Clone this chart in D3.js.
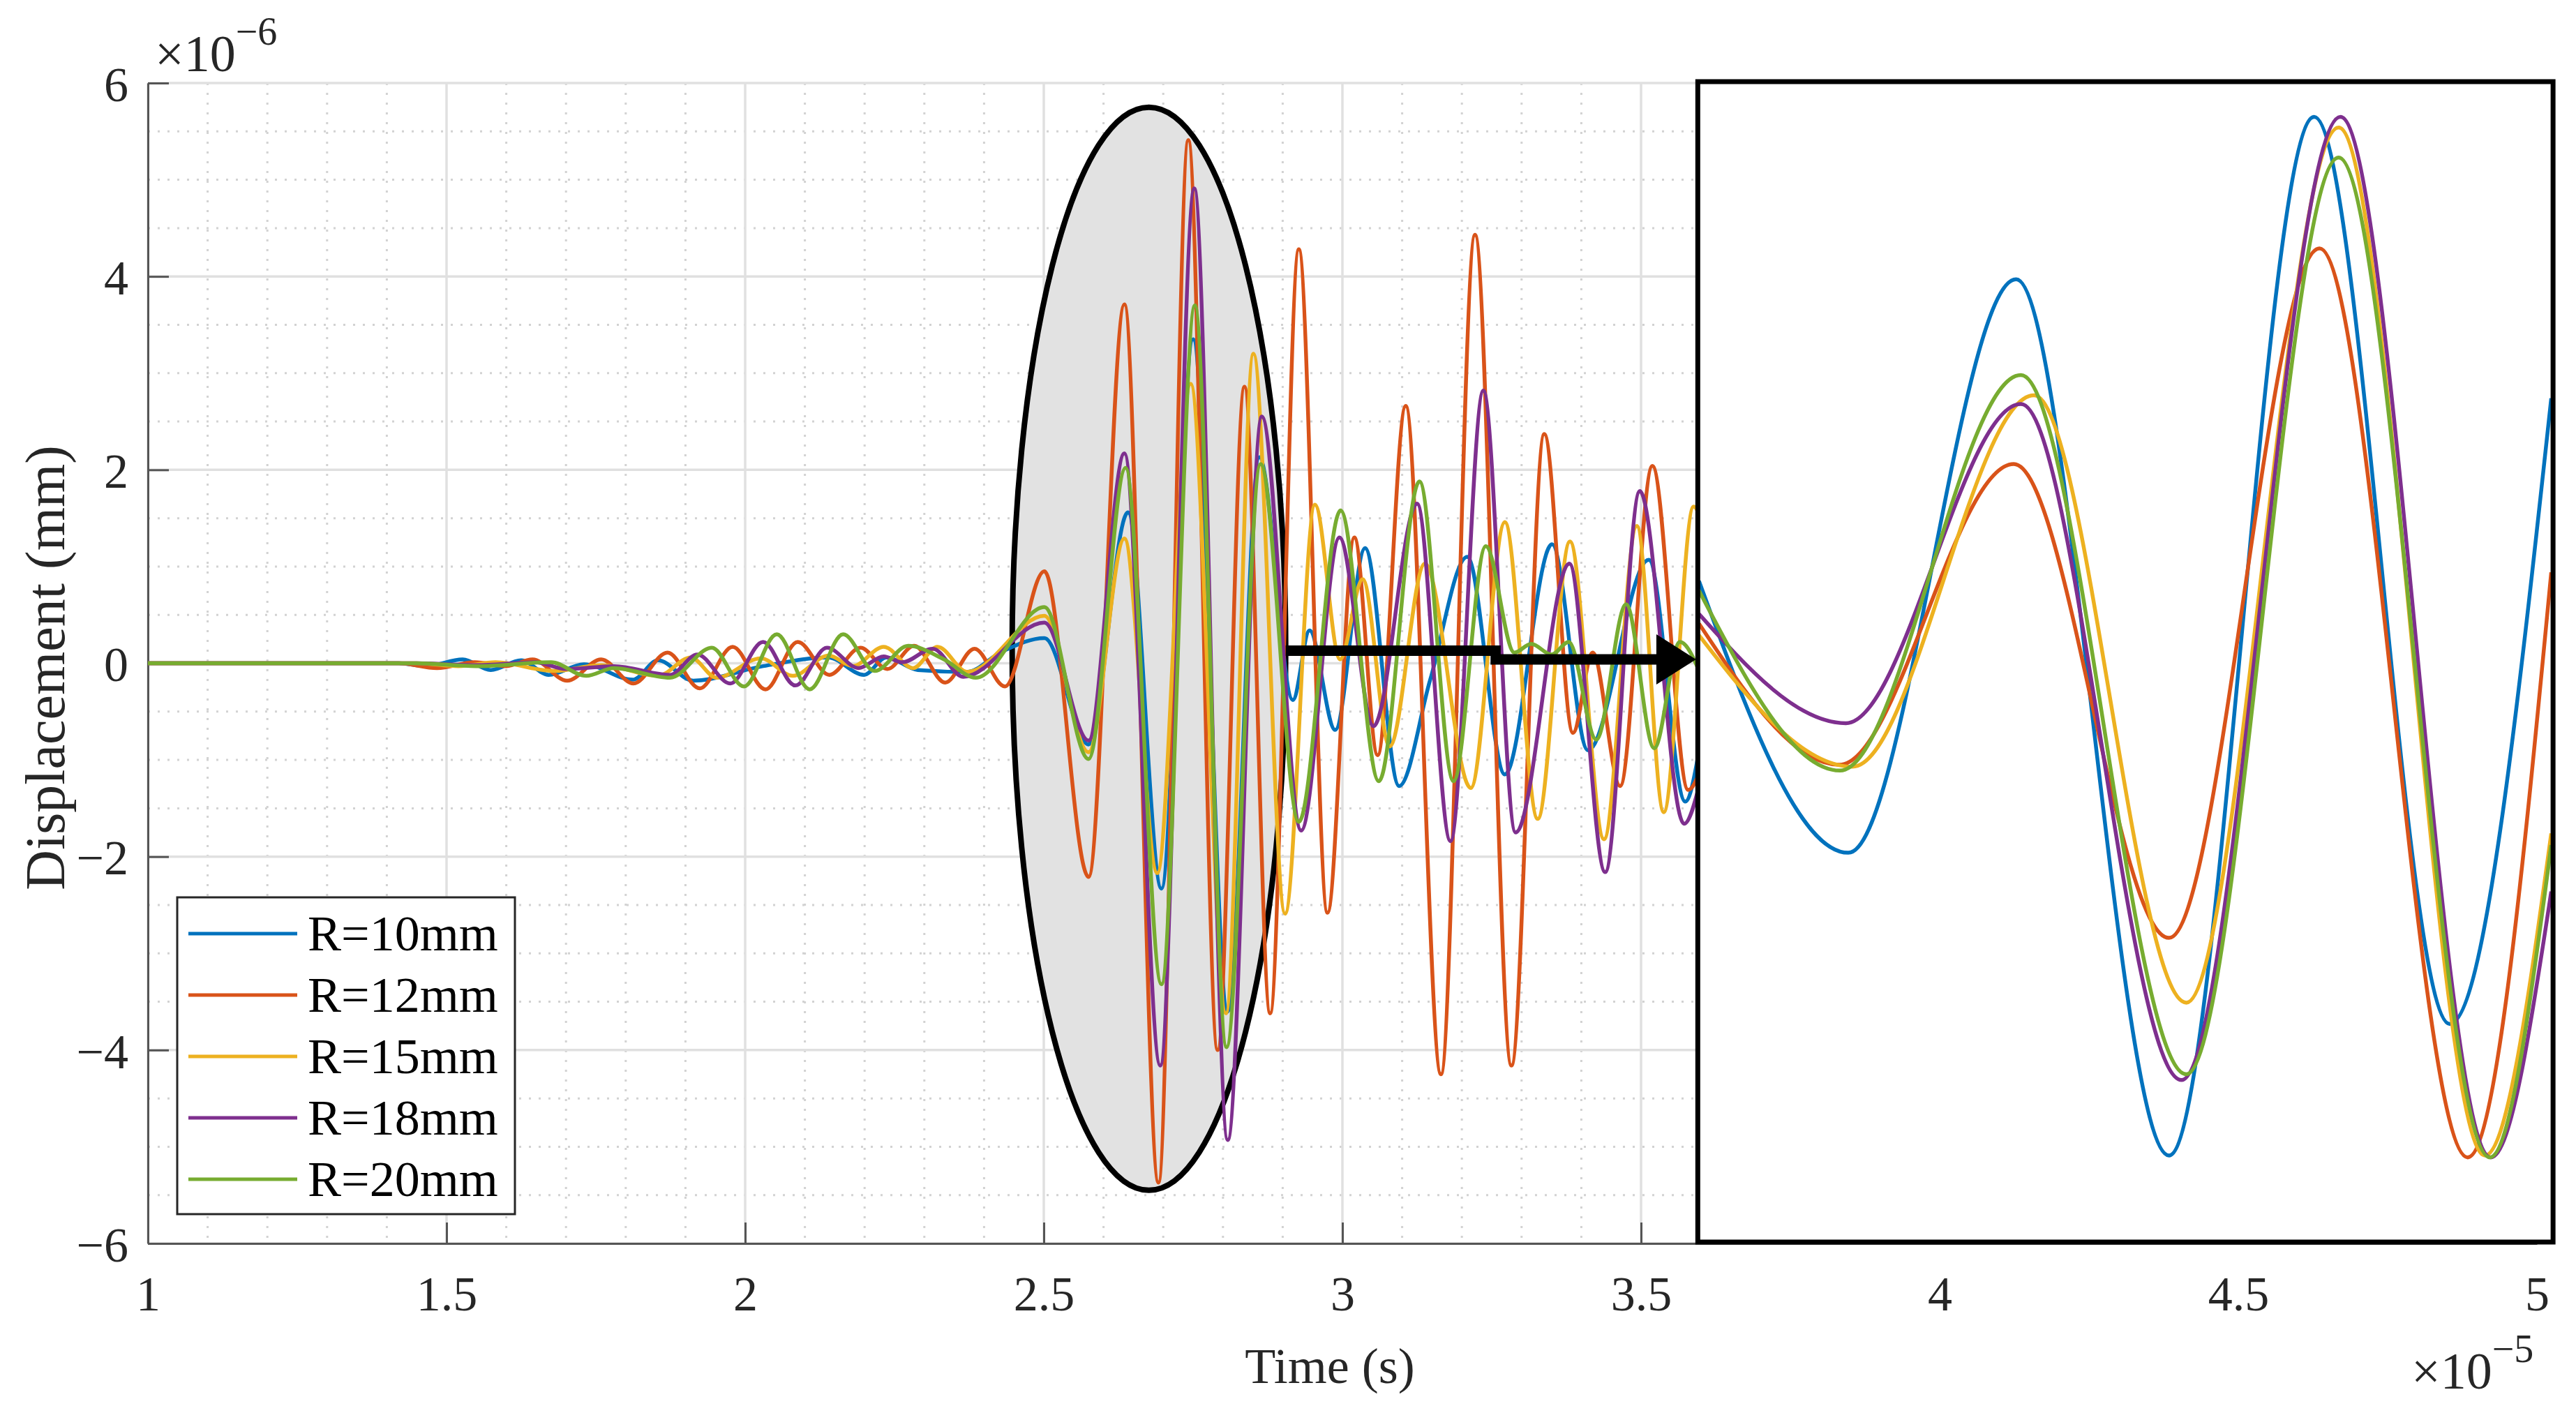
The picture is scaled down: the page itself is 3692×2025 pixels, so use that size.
<!DOCTYPE html>
<html>
<head>
<meta charset="utf-8">
<script src="https://cdn.jsdelivr.net/npm/d3@7/dist/d3.min.js"></script>
<style>
  body { margin: 0; background: #fff; }
  text { font-family: "Liberation Serif", "Times New Roman", serif; }
</style>
</head>
<body>
<svg id="chart"></svg>
<script>
// legend names and MATLAB default colours
var seriesNames = ["R=10mm", "R=12mm", "R=15mm", "R=18mm", "R=20mm"];
var seriesColors = ["#0072BD", "#D95319", "#EDB120", "#7E2F8E", "#77AC30"];

var xTicks = [1, 1.5, 2, 2.5, 3, 3.5, 4, 4.5, 5];
var xTickLabels = ["1", "1.5", "2", "2.5", "3", "3.5", "4", "4.5", "5"];
var yTicks = [-6, -4, -2, 0, 2, 4, 6];
var yTickLabels = ["\u22126", "\u22124", "\u22122", "0", "2", "4", "6"];

// main traces: [time (x1e-5 s), displacement (x1e-6 mm)], read at peaks/troughs
var r10 = [[1,0],[1.42,0],[1.465,-0.03],[1.527,0.04],[1.574,-0.07],[1.625,0.03],[1.671,-0.12],[1.730,-0.01],
  [1.812,-0.17],[1.854,0.03],[1.913,-0.18],[2.03,-0.03],[2.139,0.06],[2.199,-0.12],[2.236,0.06],[2.289,-0.07],
  [2.371,-0.09],[2.43,0.12],[2.501,0.26],[2.575,-0.84],[2.641,1.56],[2.697,-2.33],[2.750,3.35],[2.808,-3.6],
  [2.861,2.13],[2.917,-0.38],[2.945,0.34],[2.988,-0.69],[3.038,1.19],[3.095,-1.27],[3.147,-0.17],[3.209,1.10],
  [3.272,-1.15],[3.351,1.23],[3.411,-0.90],[3.513,1.07],[3.574,-1.43],[3.60,-0.8]];
var r12 = [[1,0],[1.42,0],[1.484,-0.05],[1.547,0.01],[1.60,-0.03],[1.644,0.04],[1.702,-0.18],[1.759,0.04],
  [1.813,-0.21],[1.870,0.11],[1.924,-0.26],[1.979,0.17],[2.034,-0.27],[2.088,0.22],[2.141,-0.12],[2.193,0.16],
  [2.238,-0.06],[2.283,0.18],[2.335,-0.20],[2.384,0.15],[2.435,-0.24],[2.501,0.95],[2.575,-2.21],[2.635,3.71],
  [2.692,-5.37],[2.742,5.41],[2.791,-4.0],[2.836,2.86],[2.879,-3.62],[2.927,4.28],[2.975,-2.58],[3.020,1.30],
  [3.059,-0.95],[3.106,2.66],[3.165,-4.25],[3.222,4.43],[3.283,-4.16],[3.338,2.37],[3.386,-0.72],[3.419,0.11],
  [3.465,-1.27],[3.519,2.04],[3.579,-1.31],[3.60,-1.1]];
var r15 = [[1,0],[1.45,0],[1.52,-0.03],[1.582,0.01],[1.679,-0.08],[1.76,-0.02],[1.854,-0.13],[1.909,0.06],
  [1.952,-0.15],[2.026,0.05],[2.080,-0.13],[2.14,0.08],[2.18,-0.03],[2.232,0.17],[2.281,-0.05],[2.322,0.17],
  [2.372,-0.09],[2.501,0.49],[2.575,-0.92],[2.635,1.29],[2.690,-2.17],[2.746,2.89],[2.805,-3.62],[2.851,3.20],
  [2.904,-2.59],[2.954,1.64],[2.996,0.04],[3.034,0.87],[3.079,-0.86],[3.138,1.03],[3.215,-1.29],[3.272,1.46],
  [3.327,-1.61],[3.381,1.26],[3.438,-1.82],[3.493,1.42],[3.538,-1.54],[3.588,1.62],[3.60,1.5]];
var r18 = [[1,0],[1.45,0],[1.55,-0.02],[1.648,0.01],[1.70,-0.06],[1.78,-0.03],[1.874,-0.12],[1.92,0.09],
  [1.975,-0.21],[2.030,0.22],[2.084,-0.23],[2.137,0.16],[2.19,-0.05],[2.232,0.07],[2.263,0.01],[2.314,0.15],
  [2.365,-0.14],[2.501,0.42],[2.575,-0.80],[2.635,2.17],[2.695,-4.16],[2.752,4.91],[2.808,-4.93],[2.865,2.55],
  [2.931,-1.73],[2.995,1.30],[3.052,-0.65],[3.125,1.65],[3.181,-1.84],[3.236,2.82],[3.290,-1.75],[3.380,1.03],
  [3.440,-2.16],[3.498,1.78],[3.572,-1.66],[3.60,-1.2]];
var r20 = [[1,0],[1.45,0],[1.55,-0.03],[1.675,0.01],[1.734,-0.13],[1.78,-0.05],[1.874,-0.15],[1.944,0.16],
  [1.998,-0.24],[2.053,0.30],[2.108,-0.27],[2.164,0.30],[2.217,-0.08],[2.273,0.18],[2.333,0.04],[2.386,-0.15],
  [2.501,0.58],[2.575,-0.99],[2.637,2.02],[2.697,-3.32],[2.753,3.70],[2.806,-3.97],[2.863,2.06],[2.927,-1.64],
  [2.997,1.58],[3.061,-1.22],[3.129,1.88],[3.186,-1.22],[3.240,1.21],[3.288,0.11],[3.316,0.20],[3.350,0.09],
  [3.379,0.22],[3.425,-0.79],[3.475,0.61],[3.522,-0.88],[3.565,0.22],[3.60,-0.12]];

// zoomed panel traces, read in the main axes' units
var r10Zoom = [[3.597,0.85],[3.847,-1.96],[4.128,3.97],[4.384,-5.09],[4.627,5.65],[4.854,-3.73],[5.024,2.74]];
var r12Zoom = [[3.597,0.41],[3.832,-1.05],[4.124,2.06],[4.384,-2.84],[4.636,4.29],[4.884,-5.11],[5.024,0.94]];
var r15Zoom = [[3.597,0.29],[3.854,-1.07],[4.158,2.77],[4.413,-3.51],[4.668,5.54],[4.913,-5.09],[5.024,-1.76]];
var r18Zoom = [[3.597,0.51],[3.843,-0.62],[4.136,2.68],[4.405,-4.31],[4.671,5.65],[4.923,-5.11],[5.024,-2.36]];
var r20Zoom = [[3.597,0.75],[3.833,-1.11],[4.136,2.98],[4.413,-4.25],[4.668,5.23],[4.921,-5.11],[5.024,-1.88]];

// annotations in data units
var ellipseCenter = [2.676, 0.15];
var ellipseRadii = [0.229, 5.6];
var arrowFirst = [[2.905, 0.13], [3.265, 0.13]];
var arrowSecond = [[3.248, 0.04], [3.535, 0.04]];
var arrowTip = [3.592, 0.04];
var insetRange = [3.595, 5.027];

var mainSeries = [r10, r12, r15, r18, r20];
var zoomSeries = [r10Zoom, r12Zoom, r15Zoom, r18Zoom, r20Zoom];

var dimensions = {
    width: 3692,
    height: 2025,
    margin: { top: 119, bottom: 243, left: 212, right: 56 }
};

var svg = d3.select("#chart")
    .attr("width", dimensions.width)
    .attr("height", dimensions.height);

var xScale = d3.scaleLinear()
    .domain([1, 5])
    .range([dimensions.margin.left, dimensions.width - dimensions.margin.right]);

var yScale = d3.scaleLinear()
    .domain([-6, 6])
    .range([dimensions.height - dimensions.margin.bottom, dimensions.margin.top]);

var plotTop = yScale(6), plotBottom = yScale(-6), plotLeft = xScale(1), plotRight = xScale(5);

// minor grid (dotted)
var xMinor = d3.range(0, 41).filter(i => i % 5 != 0).map(i => 1 + i * 0.1);
var yMinor = d3.range(-6, 6.01, 0.5).filter(v => v % 2 != 0);
svg.append("g").selectAll("line").data(xMinor).enter().append("line")
    .attr("x1", d => xScale(d)).attr("x2", d => xScale(d))
    .attr("y1", plotTop).attr("y2", plotBottom)
    .attr("stroke", "#d2d2d2").attr("stroke-width", 3).attr("stroke-dasharray", "3,11");
svg.append("g").selectAll("line").data(yMinor).enter().append("line")
    .attr("x1", plotLeft).attr("x2", plotRight)
    .attr("y1", d => yScale(d)).attr("y2", d => yScale(d))
    .attr("stroke", "#d2d2d2").attr("stroke-width", 3).attr("stroke-dasharray", "3,11");

// major grid
svg.append("g").selectAll("line").data(xTicks).enter().append("line")
    .attr("x1", d => xScale(d)).attr("x2", d => xScale(d))
    .attr("y1", plotTop).attr("y2", plotBottom)
    .attr("stroke", "#e0e0e0").attr("stroke-width", 3.5);
svg.append("g").selectAll("line").data(yTicks).enter().append("line")
    .attr("x1", plotLeft).attr("x2", plotRight)
    .attr("y1", d => yScale(d)).attr("y2", d => yScale(d))
    .attr("stroke", "#e0e0e0").attr("stroke-width", 3.5);

// axes
var xAxis = d3.axisBottom(xScale)
    .tickValues(xTicks)
    .tickFormat((d, i) => xTickLabels[i])
    .tickSize(-30).tickSizeOuter(0).tickPadding(46);
var gx = svg.append("g")
    .attr("transform", `translate(0, ${plotBottom})`)
    .call(xAxis);

var yAxis = d3.axisLeft(yScale)
    .tickValues(yTicks)
    .tickFormat((d, i) => yTickLabels[i])
    .tickSize(-30).tickSizeOuter(0).tickPadding(28);
var gy = svg.append("g")
    .attr("transform", `translate(${plotLeft}, 0)`)
    .call(yAxis);

[gx, gy].forEach(g => {
    g.select(".domain").attr("stroke", "#555").attr("stroke-width", 3);
    g.selectAll(".tick line").attr("stroke", "#555").attr("stroke-width", 3);
    g.selectAll(".tick text")
        .attr("font-family", "Liberation Serif, serif")
        .attr("font-size", 70)
        .attr("fill", "#262626");
});
gy.selectAll(".tick text").attr("dy", "0.36em");

// highlighted ellipse (under the traces)
var ex = xScale(ellipseCenter[0]), ey = yScale(ellipseCenter[1]);
var erx = xScale(ellipseCenter[0] + ellipseRadii[0]) - ex;
var ery = yScale(0) - yScale(ellipseRadii[1]);
svg.append("ellipse")
    .attr("cx", ex).attr("cy", ey).attr("rx", erx).attr("ry", ery)
    .attr("fill", "#e2e2e2").attr("stroke", "#000").attr("stroke-width", 8);

// main curves
svg.append("clipPath").attr("id", "plotClip")
    .append("rect").attr("x", plotLeft).attr("y", plotTop)
    .attr("width", plotRight - plotLeft).attr("height", plotBottom - plotTop);

var line = d3.line()
    .x(d => xScale(d[0]))
    .y(d => yScale(d[1]))
    .curve(d3.curveMonotoneX);

svg.append("g").attr("clip-path", "url(#plotClip)")
    .selectAll("path").data(mainSeries).enter().append("path")
    .attr("d", d => line(d))
    .attr("fill", "none")
    .attr("stroke", (d, i) => seriesColors[i])
    .attr("stroke-width", 5.5);

// arrow
svg.append("line")
    .attr("x1", xScale(arrowFirst[0][0])).attr("y1", yScale(arrowFirst[0][1]))
    .attr("x2", xScale(arrowFirst[1][0])).attr("y2", yScale(arrowFirst[1][1]))
    .attr("stroke", "#000").attr("stroke-width", 15);
svg.append("line")
    .attr("x1", xScale(arrowSecond[0][0])).attr("y1", yScale(arrowSecond[0][1]))
    .attr("x2", xScale(arrowSecond[1][0])).attr("y2", yScale(arrowSecond[1][1]))
    .attr("stroke", "#000").attr("stroke-width", 15);
var tipX = xScale(arrowTip[0]), tipY = yScale(arrowTip[1]);
var baseX = xScale(arrowSecond[1][0]) - 8;
svg.append("polygon")
    .attr("points", `${baseX},${tipY - 36} ${tipX},${tipY} ${baseX},${tipY + 36}`)
    .attr("fill", "#000");

// inset panel
var ix0 = xScale(insetRange[0]), ix1 = xScale(insetRange[1]);
var iy0 = yScale(6) - 2, iy1 = yScale(-6) - 2;
svg.append("rect")
    .attr("x", ix0).attr("y", iy0).attr("width", ix1 - ix0).attr("height", iy1 - iy0)
    .attr("fill", "#fff");
svg.append("clipPath").attr("id", "insetClip")
    .append("rect").attr("x", ix0).attr("y", iy0)
    .attr("width", ix1 - ix0).attr("height", iy1 - iy0);
svg.append("g").attr("clip-path", "url(#insetClip)")
    .selectAll("path").data(zoomSeries).enter().append("path")
    .attr("d", d => line(d))
    .attr("fill", "none")
    .attr("stroke", (d, i) => seriesColors[i])
    .attr("stroke-width", 5.5);
svg.append("rect")
    .attr("x", ix0).attr("y", iy0).attr("width", ix1 - ix0).attr("height", iy1 - iy0)
    .attr("fill", "none").attr("stroke", "#000").attr("stroke-width", 7);

// exponent labels
var expY = svg.append("text").attr("x", 222).attr("y", 102)
    .attr("font-size", 74).attr("fill", "#262626");
expY.append("tspan").text("\u00d710");
expY.append("tspan").attr("font-size", 56).attr("dy", -38).text("\u22126");

var expX = svg.append("text").attr("x", 3456).attr("y", 1990)
    .attr("font-size", 74).attr("fill", "#262626");
expX.append("tspan").text("\u00d710");
expX.append("tspan").attr("font-size", 56).attr("dy", -38).text("\u22125");

// axis titles
svg.append("text")
    .attr("x", 1906).attr("y", 1982)
    .attr("text-anchor", "middle")
    .attr("font-size", 72).attr("fill", "#262626")
    .text("Time (s)");
svg.append("text")
    .attr("transform", "translate(92, 957) rotate(-90)")
    .attr("text-anchor", "middle")
    .attr("font-size", 80).attr("fill", "#262626")
    .text("Displacement (mm)");

// legend
var legend = svg.append("g");
legend.append("rect")
    .attr("x", 254).attr("y", 1286).attr("width", 484).attr("height", 454)
    .attr("fill", "#fff").attr("stroke", "#262626").attr("stroke-width", 3);
var items = legend.selectAll(".item").data(seriesNames).enter().append("g")
    .attr("transform", (d, i) => `translate(0, ${1338 + i * 88})`);
items.append("line")
    .attr("x1", 270).attr("x2", 426).attr("y1", 0).attr("y2", 0)
    .attr("stroke", (d, i) => seriesColors[i]).attr("stroke-width", 5);
items.append("text")
    .attr("x", 441).attr("y", 24)
    .attr("font-size", 72).attr("fill", "#000")
    .text(d => d);
</script>
</body>
</html>
